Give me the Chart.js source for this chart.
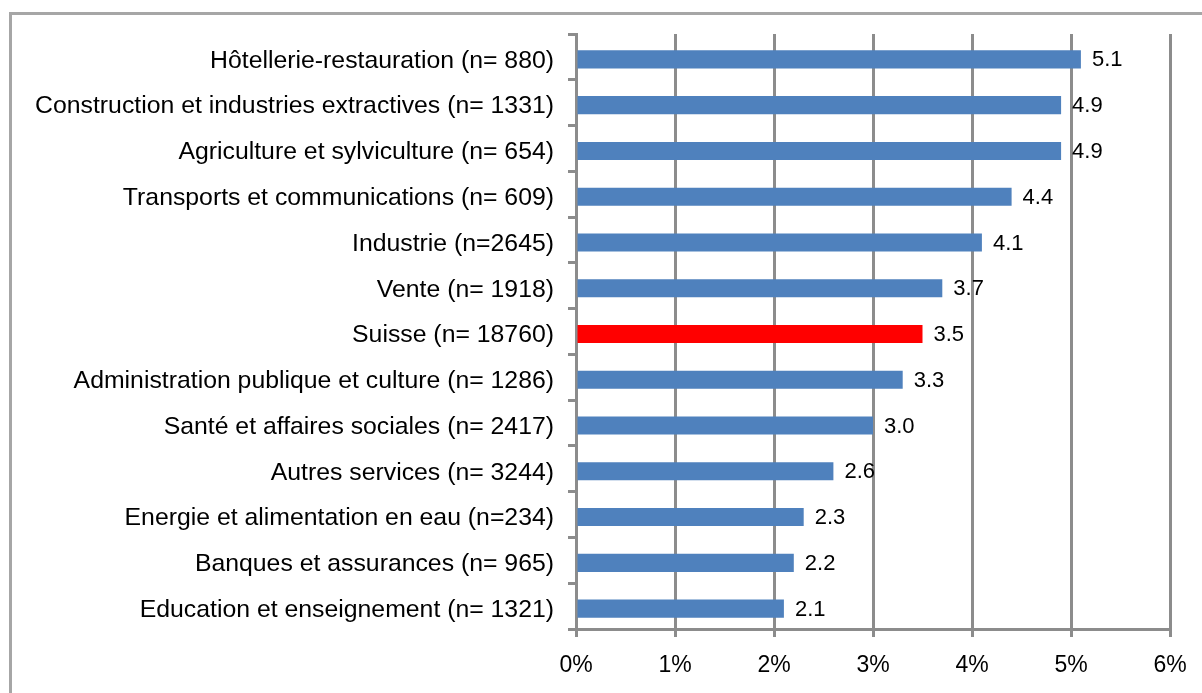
<!DOCTYPE html>
<html>
<head>
<meta charset="utf-8">
<script src="https://cdn.jsdelivr.net/npm/chart.js@4"></script>
<style>
  html, body { margin: 0; padding: 0; background: #fff; width: 1202px; height: 693px; overflow: hidden; }
  #frame { position: absolute; left: 9px; top: 12px; width: 1300px; height: 800px; border: 3px solid #a6a6a6; box-sizing: border-box; }
  #wrap { position: absolute; left: 0; top: 0; width: 1202px; height: 693px; }
</style>
</head>
<body>
<div id="frame"></div>
<div id="wrap"><canvas id="c" width="1202" height="693"></canvas></div>
<script>
const categories = [
  "Hôtellerie-restauration (n= 880)",
  "Construction et industries extractives (n= 1331)",
  "Agriculture et sylviculture (n= 654)",
  "Transports et communications (n= 609)",
  "Industrie (n=2645)",
  "Vente (n= 1918)",
  "Suisse (n= 18760)",
  "Administration publique et culture (n= 1286)",
  "Santé et affaires sociales (n= 2417)",
  "Autres services (n= 3244)",
  "Energie et alimentation en eau (n=234)",
  "Banques et assurances (n= 965)",
  "Education et enseignement (n= 1321)"
];
const values = [5.1, 4.9, 4.9, 4.4, 4.1, 3.7, 3.5, 3.3, 3.0, 2.6, 2.3, 2.2, 2.1];
const highlightCategory = "Suisse (n= 18760)";
const xTicks = [0, 1, 2, 3, 4, 5, 6];

const FONT = "'Liberation Sans', Arial, sans-serif";
const gridColor = '#8c8c8c';
const BAR_SHIFT = 2.5;

const shiftBars = {
  id: 'shiftBars',
  beforeDatasetsDraw(chart) { chart.ctx.save(); chart.ctx.translate(0, BAR_SHIFT); },
  afterDatasetsDraw(chart) { chart.ctx.restore(); }
};

const valueLabels = {
  id: 'valueLabels',
  afterDatasetsDraw(chart) {
    const ctx = chart.ctx;
    const meta = chart.getDatasetMeta(0);
    ctx.save();
    ctx.font = '22px ' + FONT;
    ctx.fillStyle = '#000';
    ctx.textAlign = 'left';
    ctx.textBaseline = 'middle';
    meta.data.forEach((bar, i) => {
      ctx.fillText(values[i].toFixed(1), bar.x + 11, bar.y + BAR_SHIFT + 1);
    });
    ctx.restore();
  }
};

new Chart(document.getElementById('c'), {
  type: 'bar',
  data: {
    labels: categories,
    datasets: [{
      data: values,
      backgroundColor: categories.map(c => c === highlightCategory ? '#ff0000' : '#4f81bd'),
      borderWidth: 0,
      categoryPercentage: 1.0,
      barPercentage: 0.395
    }]
  },
  options: {
    indexAxis: 'y',
    responsive: false,
    animation: false,
    devicePixelRatio: 1,
    layout: { padding: { left: 0, right: 32, top: 34, bottom: 0 } },
    plugins: { legend: { display: false }, tooltip: { enabled: false } },
    scales: {
      x: {
        min: 0, max: 6,
        afterBuildTicks(scale) { scale.ticks = xTicks.map(v => ({ value: v })); },
        afterFit(scale) { scale.height = 64; },
        ticks: {
          callback: v => v + '%',
          color: '#000',
          font: { family: FONT, size: 23 },
          padding: 15
        },
        grid: { color: gridColor, lineWidth: 3, tickLength: 8, drawTicks: true },
        border: { display: true, color: gridColor, width: 3 }
      },
      y: {
        afterFit(scale) { scale.width = 576; },
        ticks: {
          color: '#000',
          font: { family: FONT, size: 24.8 },
          padding: 14,
          labelOffset: 4
        },
        grid: { offset: true, drawOnChartArea: false, color: gridColor, lineWidth: 3, tickLength: 8 },
        border: { display: true, color: gridColor, width: 3 }
      }
    }
  },
  plugins: [shiftBars, valueLabels]
});
</script>
</body>
</html>
